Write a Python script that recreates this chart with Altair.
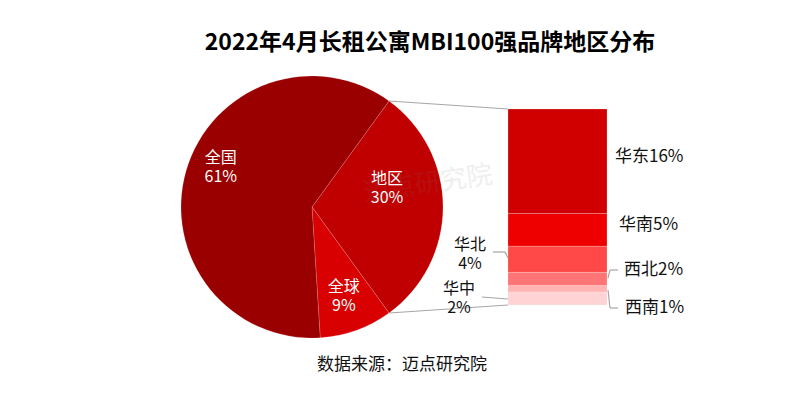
import math
import altair as alt
import pandas as pd

# ---------------- data ----------------
scope = ["全国", "地区", "全球"]
scope_vals = [61, 30, 9]
scope_colors = ["#9B0000", "#C00000", "#D80000"]

regions = ["华东", "华南", "华北", "西北", "西南", "华中"]   # top -> bottom
region_vals = [16, 5, 4, 2, 1, 2]
region_colors = ["#D00000", "#EE0000", "#FF4848", "#FF7474", "#FFB3B3", "#FFD3D3"]

title_text = "2022年4月长租公寓MBI100强品牌地区分布"
source_text = "数据来源：迈点研究院"
FONT = "Noto Sans CJK SC"

# ---------------- layout constants (page pixels, shifted to plot origin) ----------------
PAD = 5
OFF = 8 + PAD
W, H = 772, 370
def px(v):
    return v - OFF

CX, CY, R = px(312), px(207), 131
START = math.radians(36)
BAR_X0, BAR_X1 = px(508), px(607)
BAR_TOP, BAR_BOT = px(109), px(305)

# ---------------- tables ----------------
pie_order = ["地区", "全球", "全国"]
rows, acc = [], 0
for c in pie_order:
    v = scope_vals[scope.index(c)]
    rows.append({"cat": c, "val": v, "start": acc, "end": acc + v,
                 "mid": acc + v / 2, "label": f"{c}\n{v}%"})
    acc += v
pie_df = pd.DataFrame(rows)

bar_rows, acc = [], 0
for c, v in reversed(list(zip(regions, region_vals))):
    bar_rows.append({"reg": c, "val": v, "y0": acc, "y1": acc + v, "mid": acc + v / 2})
    acc += v
bar_df = pd.DataFrame(bar_rows)
total_bar = acc

theta_scale = alt.Scale(domain=[0, sum(scope_vals)], range=[START, START + 2 * math.pi])
y_scale = alt.Scale(domain=[0, total_bar], range=[BAR_BOT, BAR_TOP])

pie = alt.Chart(pie_df).mark_arc(outerRadius=R, stroke="#ffffff", strokeOpacity=0.25, strokeWidth=0.6).encode(
    theta=alt.Theta("start:Q", scale=theta_scale),
    theta2="end:Q",
    color=alt.Color("cat:N", scale=alt.Scale(domain=scope, range=scope_colors), legend=None),
    x=alt.value(CX), y=alt.value(CY),
)

def pie_label(cat, radius, dx=0, dy=0):
    return alt.Chart(pie_df).transform_filter(alt.datum.cat == cat).mark_text(
        radius=radius, dx=dx, dy=dy, font=FONT, fontSize=16, color="white",
        lineBreak="\n", lineHeight=19, align="center", baseline="middle"
    ).encode(
        theta=alt.Theta("mid:Q", scale=theta_scale),
        text="label:N", x=alt.value(CX), y=alt.value(CY),
    )

pie_labels = [pie_label("全国", 95, 0, -22), pie_label("地区", 76, -1, -28), pie_label("全球", 94, 0, -8)]

bar = alt.Chart(bar_df).mark_bar(stroke="#ffffff", strokeOpacity=0.35, strokeWidth=0.6).encode(
    x=alt.value(BAR_X0), x2=alt.value(BAR_X1),
    y=alt.Y("y0:Q", scale=y_scale, axis=None), y2="y1:Q",
    color=alt.Color("reg:N", scale=alt.Scale(domain=regions, range=region_colors), legend=None),
)

def bar_label(reg, xpos, dy, align="left", two_line=False):
    expr = "datum.reg + '\\n' + datum.val + '%'" if two_line else "datum.reg + datum.val + '%'"
    return alt.Chart(bar_df).transform_filter(alt.datum.reg == reg).transform_calculate(
        txt=expr
    ).mark_text(
        font=FONT, fontSize=17 if not two_line else 16, color="#111111", align=align,
        baseline="middle", dy=dy, lineBreak="\n", lineHeight=19
    ).encode(
        x=alt.value(px(xpos)), y=alt.Y("mid:Q", scale=y_scale, axis=None), text="txt:N"
    )

bar_labels = [
    bar_label("华东", 615, -4),
    bar_label("华南", 619, -5),
    bar_label("西北", 624, -9),
    bar_label("西南", 625, 19),
    bar_label("华北", 470, -14, align="center", two_line=True),
    bar_label("华中", 459, -9, align="center", two_line=True),
]

# connectors pie -> bar, and leader lines (decorations)
def pie_pt(a):
    return CX + R * math.sin(a), CY - R * math.cos(a)

p_top = pie_pt(START)
p_bot = pie_pt(START + 2 * math.pi * scope_vals[1] / sum(scope_vals))
segments = [
    (p_top[0], p_top[1], BAR_X0, BAR_TOP),
    (p_bot[0], p_bot[1], BAR_X0, BAR_BOT),
] + [
    (px(a), px(b), px(c), px(d)) for a, b, c, d in [
        (493, 252, 505, 252), (505, 252, 508, 258),
        (608, 278, 610, 270), (610, 270, 618, 270),
        (608, 290, 610, 308), (610, 308, 618, 308),
        (482, 297, 508, 299),
    ]
]
one = pd.DataFrame({"k": [0]})
lines = [
    alt.Chart(one).mark_rule(color="#A6A6A6", strokeWidth=1.2).encode(
        x=alt.value(a), y=alt.value(b), x2=alt.value(c), y2=alt.value(d)
    )
    for a, b, c, d in segments
]

def free_text(txt, x, y, size, weight="normal", color="#000000", opacity=1.0, angle=0):
    return alt.Chart(pd.DataFrame({"t": [txt]})).mark_text(
        font=FONT, fontSize=size, fontWeight=weight, color=color, opacity=opacity,
        align="center", baseline="middle", angle=angle
    ).encode(x=alt.value(px(x)), y=alt.value(px(y)), text="t:N")

title = free_text(title_text, 430, 43, 23, weight="bold")
source = free_text(source_text, 402, 365, 17, color="#111111")
watermark = free_text("迈点研究院", 428, 184, 26, color="#7a7a7a", opacity=0.12, angle=352)

chart = alt.layer(
    *lines, pie, bar, *pie_labels, *bar_labels, title, source, watermark
).resolve_scale(
    color="independent", theta="independent"
).properties(
    width=W, height=H, padding=PAD,
    autosize=alt.AutoSizeParams(type="none", contains="padding"),
).configure_view(
    strokeWidth=0, strokeOpacity=0
).configure_axis(
    domainOpacity=0, tickOpacity=0, labelOpacity=0, gridOpacity=0, titleOpacity=0
)

chart.save("out.html", embed_options={"renderer": "svg", "actions": False})
